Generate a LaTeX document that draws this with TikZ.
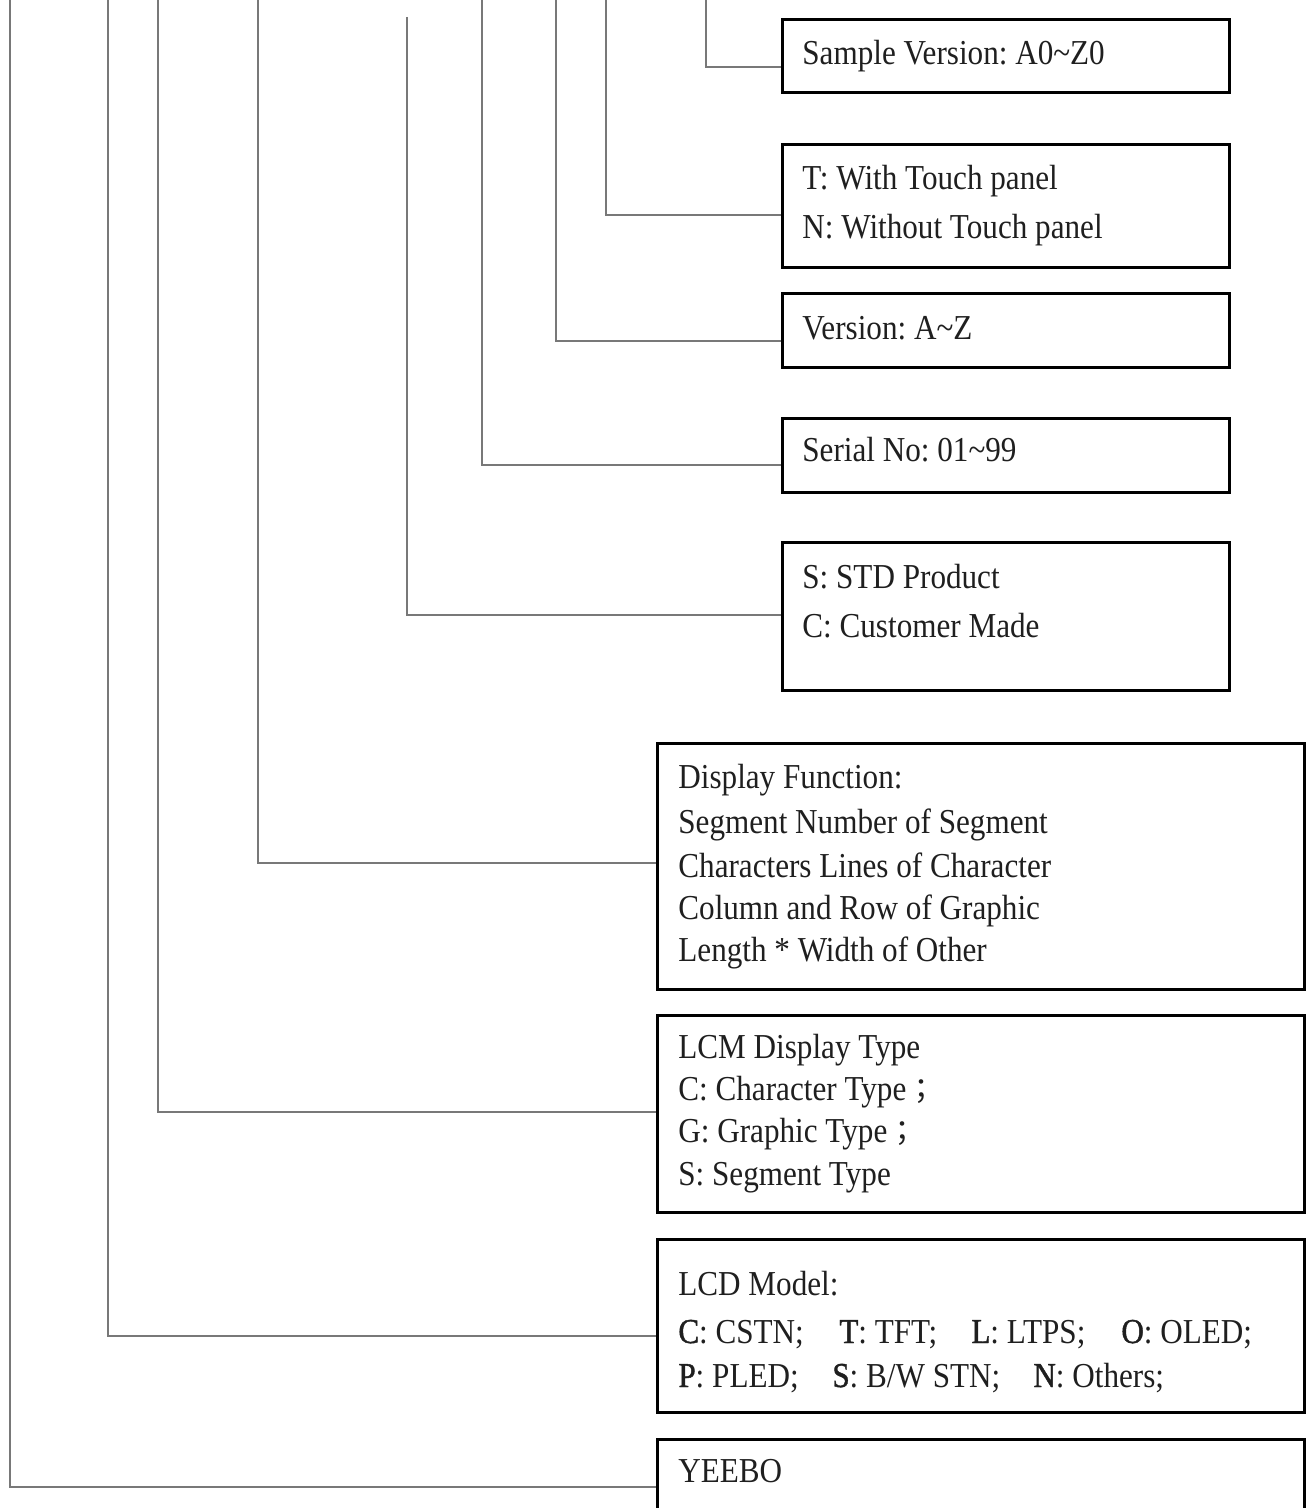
\documentclass[tikz,border=0pt]{standalone}
\usepackage{fontspec}
\setmainfont{Liberation Serif}[FakeStretch=0.89]
\newfontfamily\cjkfont{Noto Sans CJK TC}
\newfontfamily\semib{Liberation Serif}[FakeStretch=0.89,FakeBold=1.2]
\usetikzlibrary{calc}
\definecolor{linegrey}{HTML}{787878}
\frenchspacing
\begin{document}
\begin{tikzpicture}[x=0.5pt,y=-0.5pt,
  box/.style={draw=black,line width=1.5pt,rectangle,anchor=north west,inner sep=0pt},
  rbox/.style={box,minimum width=223.5pt},
  lbox/.style={box,minimum width=323.5pt},
  conn/.style={draw=linegrey,line width=1pt},
  lbl/.style={anchor=base west,inner sep=0pt,text=black!88,font=\fontsize{17.5pt}{21pt}\selectfont}]
\useasboundingbox (0,0) rectangle (1310,1508);
\clip (0,0) rectangle (1310,1508);
% boxes
\node[rbox,minimum height=36.5pt] (b1) at (781,18) {};
\node[rbox,minimum height=61.5pt] (b2) at (781,143) {};
\node[rbox,minimum height=37pt] (b3) at (781,292) {};
\node[rbox,minimum height=37pt] (b4) at (781,417) {};
\node[rbox,minimum height=74pt] (b5) at (781,541) {};
\node[lbox,minimum height=123pt] (b6) at (656,742) {};
\node[lbox,minimum height=98.5pt] (b7) at (656,1014) {};
\node[lbox,minimum height=86.5pt] (b8) at (656,1238) {};
\node[lbox,minimum height=60pt] (b9) at (656,1438) {};
% connector tops
\coordinate (t1) at (706,-5);
\coordinate (t2) at (606,-5);
\coordinate (t3) at (556,-5);
\coordinate (t4) at (482,-5);
\coordinate (t5) at (407,17);
\coordinate (t6) at (258,-5);
\coordinate (t7) at (158,-5);
\coordinate (t8) at (108,-5);
\coordinate (t9) at (10,-5);
% connectors
\draw[conn] (t1) |- ($(b1.north west)+(0,49)$);
\draw[conn] (t2) |- ($(b2.north west)+(0,72)$);
\draw[conn] (t3) |- ($(b3.north west)+(0,49)$);
\draw[conn] (t4) |- ($(b4.north west)+(0,48)$);
\draw[conn] (t5) |- ($(b5.north west)+(0,74)$);
\draw[conn] (t6) |- ($(b6.north west)+(0,121)$);
\draw[conn] (t7) |- ($(b7.north west)+(0,98)$);
\draw[conn] (t8) |- ($(b8.north west)+(0,98)$);
\draw[conn] (t9) |- ($(b9.north west)+(0,49)$);
% texts
\node[lbl] (s1) at (802,65) {Sample Version: A0\textasciitilde Z0};
\node[lbl] (s2a) at (802,190) {T: With Touch panel};
\node[lbl] (s2b) at (802,239) {N: Without Touch panel};
\node[lbl] (s3) at (802,340) {Version: A\textasciitilde Z};
\node[lbl] (s4) at (802,461) {Serial No: 01\textasciitilde 99};
\node[lbl] (s5a) at (802,588) {S: STD Product};
\node[lbl] (s5b) at (802,637) {C: Customer Made};
\node[lbl] (s6a) at (678,788) {Display Function:};
\node[lbl] (s6b) at (678,833) {Segment Number of Segment};
\node[lbl] (s6c) at (678,877) {Characters Lines of Character};
\node[lbl] (s6d) at (678,919) {Column and Row of Graphic};
\node[lbl] (s6e) at (678,961) {Length * Width of Other};
\node[lbl] (s7a) at (678,1058) {LCM Display Type};
\node[lbl] (s7b) at (678,1100) {C: Character Type{\cjkfont\fontsize{15pt}{18pt}\selectfont ；}};
\node[lbl] (s7c) at (678,1142) {G: Graphic Type{\cjkfont\fontsize{15pt}{18pt}\selectfont ；}};
\node[lbl] (s7d) at (678,1185) {S: Segment Type};
\node[lbl] (s8a) at (678,1295) {LCD Model:};
\node[lbl] (s8b) at (678,1343) {\makebox[80.5pt][l]{{\semib C}: CSTN;}\makebox[66pt][l]{{\semib T}: TFT;}\makebox[75pt][l]{{\semib L}: LTPS;}{\semib O}: OLED;};
\node[lbl] (s8c) at (678,1387) {\makebox[77pt][l]{{\semib P}: PLED;}\makebox[100.5pt][l]{{\semib S}: B/W STN;}{\semib N}: Others;};
\node[lbl] (s9) at (678,1482) {YEEBO};
\end{tikzpicture}
\end{document}
